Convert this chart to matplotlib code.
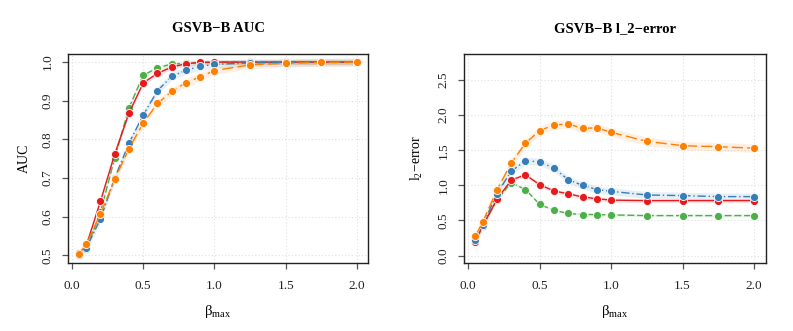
import numpy as np
import matplotlib
matplotlib.use("Agg")
import matplotlib.pyplot as plt

plt.rcParams['font.family'] = ['Liberation Serif', 'DejaVu Serif']
plt.rcParams['mathtext.fontset'] = 'custom'
plt.rcParams['mathtext.rm'] = 'Liberation Serif'

x = [0.05, 0.1, 0.2, 0.3, 0.4, 0.5, 0.6, 0.7, 0.8, 0.9, 1.0, 1.25, 1.5, 1.75, 2.0]

auc_red = [0.505, 0.525, 0.640, 0.762, 0.868, 0.946, 0.971, 0.987, 0.996, 0.999, 1.0, 1.0, 1.0, 1.0, 1.0]
auc_green = [0.505, 0.516, 0.612, 0.752, 0.882, 0.966, 0.985, 0.995, 0.997, 0.999, 1.0, 1.0, 1.0, 1.0, 1.0]
auc_blue = [0.501, 0.519, 0.594, 0.700, 0.790, 0.863, 0.926, 0.963, 0.979, 0.989, 0.994, 0.998, 0.999, 1.0, 1.0]
auc_orange = [0.504, 0.528, 0.607, 0.697, 0.776, 0.842, 0.893, 0.924, 0.947, 0.962, 0.978, 0.993, 0.997, 0.999, 1.0]

l2_red = [0.20, 0.42, 0.80, 1.075, 1.15, 1.01, 0.92, 0.88, 0.835, 0.81, 0.79, 0.783, 0.783, 0.783, 0.783]
l2_green = [0.21, 0.42, 0.79, 1.04, 0.94, 0.73, 0.645, 0.60, 0.585, 0.585, 0.58, 0.57, 0.57, 0.57, 0.57]
l2_blue = [0.22, 0.43, 0.88, 1.20, 1.35, 1.335, 1.245, 1.08, 1.0, 0.94, 0.915, 0.863, 0.854, 0.84, 0.84]
l2_orange = [0.28, 0.475, 0.93, 1.315, 1.60, 1.78, 1.86, 1.875, 1.81, 1.82, 1.755, 1.627, 1.565, 1.55, 1.53]

auc_band = {'red': 0.006, 'green': 0.006, 'blue': 0.010, 'orange': 0.010}
l2_band = {'red': 0.03, 'green': 0.02, 'blue': 0.05, 'orange': 0.06}

colors = {'red': '#E41A1C', 'green': '#4DAF4A', 'blue': '#377EB8', 'orange': '#FF7F00'}
styles = {'red': '-', 'green': (0, (5, 2)), 'blue': (0, (6, 2, 1, 2)), 'orange': (0, (8, 3))}

xticks = [0.0, 0.5, 1.0, 1.5, 2.0]
auc_yticks = [0.5, 0.6, 0.7, 0.8, 0.9, 1.0]
l2_yticks = [0.0, 0.5, 1.0, 1.5, 2.0, 2.5]

W, H = 793, 331
fig = plt.figure(figsize=(W / 100, H / 100), dpi=100)
ax1 = fig.add_axes([68 / W, (H - 263) / H, 300 / W, 209 / H])
ax2 = fig.add_axes([464 / W, (H - 263) / H, 302 / W, 209 / H])

def draw(ax, series, bands, order):
    for k, name in enumerate(order):
        y = np.array(series[name])
        c = colors[name]
        ax.fill_between(x, y - bands[name], y + bands[name], color=c, alpha=0.12, lw=0)
        ax.plot(x, y, color=c, lw=1.0, linestyle=styles[name], zorder=3 + 2 * k)
        ax.plot(x, y, linestyle='none', marker='o', markersize=5.8, markerfacecolor=c,
                markeredgecolor='white', markeredgewidth=0.6, zorder=4 + 2 * k)

def style(ax, yticks, xlim, ylim, title, ylabel, ylpad):
    ax.set_xlim(*xlim)
    ax.set_ylim(*ylim)
    ax.set_xticks(xticks)
    ax.set_xticklabels([f"{v:.1f}" for v in xticks])
    ax.set_yticks(yticks)
    ax.set_yticklabels([f"{v:.1f}" for v in yticks], rotation=90, va='center')
    ax.grid(True, color='#e0e0e0', linestyle=(0, (1, 2)), lw=0.8)
    ax.set_axisbelow(True)
    for s in ax.spines.values():
        s.set_color('#222222')
        s.set_linewidth(1.0)
    ax.tick_params(axis='both', direction='out', length=4.3, width=0.9, color='#555555',
                   labelsize=9.5, labelcolor='#222222')
    ax.tick_params(axis='x', pad=8)
    ax.tick_params(axis='y', pad=6)
    ax.set_title(title, fontsize=10.5, fontweight='bold', pad=16)
    ax.set_xlabel('\u03b2$_{\\mathrm{max}}$', fontsize=10.5, labelpad=8)
    ax.set_ylabel(ylabel, fontsize=10, labelpad=ylpad)

order = ['green', 'red', 'blue', 'orange']
draw(ax1, {'red': auc_red, 'green': auc_green, 'blue': auc_blue, 'orange': auc_orange}, auc_band, order)
draw(ax2, {'red': l2_red, 'green': l2_green, 'blue': l2_blue, 'orange': l2_orange}, l2_band, order)

style(ax1, auc_yticks, (-0.028, 2.078), (0.48, 1.021), 'GSVB\u2212B AUC', 'AUC', 8)
style(ax2, l2_yticks, (-0.03, 2.084), (-0.105, 2.87), 'GSVB\u2212B l_2\u2212error',
      'l$_{2}$\u2212error', 9)

fig.savefig('out.png', dpi=100, facecolor='white')
